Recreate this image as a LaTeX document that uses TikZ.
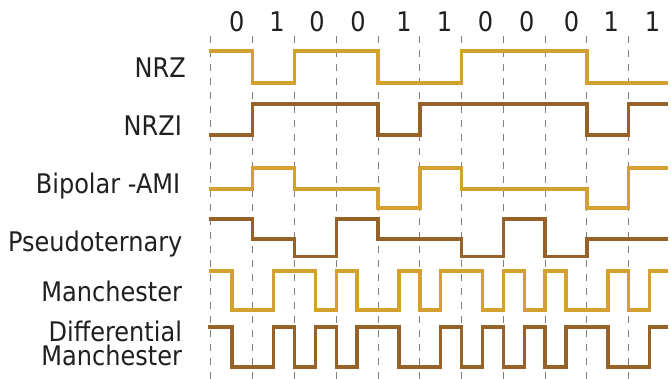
\documentclass[tikz,border=0pt]{standalone}
\usepackage{fontspec}
\setmainfont{DejaVu Sans}[FakeStretch=0.89]
\definecolor{line gold}{RGB}{212,160,48}
\definecolor{line brown}{RGB}{150,98,40}
\definecolor{label grey}{RGB}{35,31,32}

\begin{document}
\begin{tikzpicture}[x=41.77pt, y=-1pt, font=\fontsize{27}{23.3}\selectfont, text=label grey,
    bitgrid/.style={gray, line width=1pt, dash pattern=on 7pt off 7pt},
    sig/.style={line width=3.4pt},
    scheme/.style={anchor=base east, inner sep=0pt},
    bit/.style={anchor=base, inner sep=0pt}]
  \useasboundingbox[fill=white] (-5.051,0) rectangle (11.013,379);
  % bit cells
  \draw[bitgrid] (0,36) -- (0,379) (1,36) -- (1,379) (2,36) -- (2,379) (3,36) -- (3,379)
    (4,36) -- (4,379) (5,36) -- (5,379) (6,36) -- (6,379) (7,36) -- (7,379)
    (8,36) -- (8,379) (9,36) -- (9,379) (10,36) -- (10,379);
  % data bits
  \node[bit] (b1) at (0.62,32) {0};
  \node[bit] (b2) at (1.58,32) {1};
  \node[bit] (b3) at (2.54,32) {0};
  \node[bit] (b4) at (3.52,32) {0};
  \node[bit] (b5) at (4.62,32) {1};
  \node[bit] (b6) at (5.59,32) {1};
  \node[bit] (b7) at (6.57,32) {0};
  \node[bit] (b8) at (7.56,32) {0};
  \node[bit] (b9) at (8.63,32) {0};
  \node[bit] (b10) at (9.58,32) {1};
  \node[bit] (b11) at (10.57,32) {1};
  % line codes
  \node[scheme] (nrz) at (-0.60,78) {NRZ};
  \draw[sig, line gold] (-0.04,51) -- (1,51) -- (1,83) -- (2,83) -- (2,51) -- (4,51) -- (4,83) -- (6,83) -- (6,51) -- (9,51) -- (9,83) -- (10.94,83);
  \node[scheme] (nrzi) at (-0.69,136) {NRZI};
  \draw[sig, line brown] (-0.04,135) -- (1,135) -- (1,104) -- (4,104) -- (4,135) -- (5,135) -- (5,104) -- (9,104) -- (9,135) -- (10,135) -- (10,104) -- (10.94,104);
  \node[scheme] (ami) at (-0.73,194) {Bipolar -AMI};
  \draw[sig, line gold] (-0.04,189) -- (1,189) -- (1,168) -- (2,168) -- (2,189) -- (4,189) -- (4,208) -- (5,208) -- (5,168) -- (6,168) -- (6,189) -- (9,189) -- (9,208) -- (10,208) -- (10,168) -- (10.94,168);
  \node[scheme] (pseudo) at (-0.68,251.5) {Pseudoternary};
  \draw[sig, line brown] (-0.04,219) -- (1,219) -- (1,239) -- (2,239) -- (2,256.5) -- (3,256.5) -- (3,219) -- (4,219) -- (4,239) -- (6,239) -- (6,256.5) -- (7,256.5) -- (7,219) -- (8,219) -- (8,256.5) -- (9,256.5) -- (9,239) -- (10.94,239);
  \node[scheme] (manch) at (-0.69,301.5) {Manchester};
  \draw[sig, line gold] (-0.04,271) -- (0.5,271) -- (0.5,310) -- (1.5,310) -- (1.5,271) -- (2.5,271) -- (2.5,310) -- (3,310) -- (3,271) -- (3.5,271) -- (3.5,310) -- (4.5,310) -- (4.5,271) -- (5,271) -- (5,310) -- (5.5,310) -- (5.5,271) -- (6.5,271) -- (6.5,310) -- (7,310) -- (7,271) -- (7.5,271) -- (7.5,310) -- (8,310) -- (8,271) -- (8.5,271) -- (8.5,310) -- (9.5,310) -- (9.5,271) -- (10,271) -- (10,310) -- (10.5,310) -- (10.5,271) -- (10.94,271);
  \node[scheme, align=right] (dmanch) at (-0.69,365) {Differential\\Manchester};
  \draw[sig, line brown] (-0.07,327) -- (0.5,327) -- (0.5,367) -- (1.5,367) -- (1.5,327) -- (2,327) -- (2,367) -- (2.5,367) -- (2.5,327) -- (3,327) -- (3,367) -- (3.5,367) -- (3.5,327) -- (4.5,327) -- (4.5,367) -- (5.5,367) -- (5.5,327) -- (6,327) -- (6,367) -- (6.5,367) -- (6.5,327) -- (7,327) -- (7,367) -- (7.5,367) -- (7.5,327) -- (8,327) -- (8,367) -- (8.5,367) -- (8.5,327) -- (9.5,327) -- (9.5,367) -- (10.5,367) -- (10.5,327) -- (10.94,327);
\end{tikzpicture}
\end{document}
